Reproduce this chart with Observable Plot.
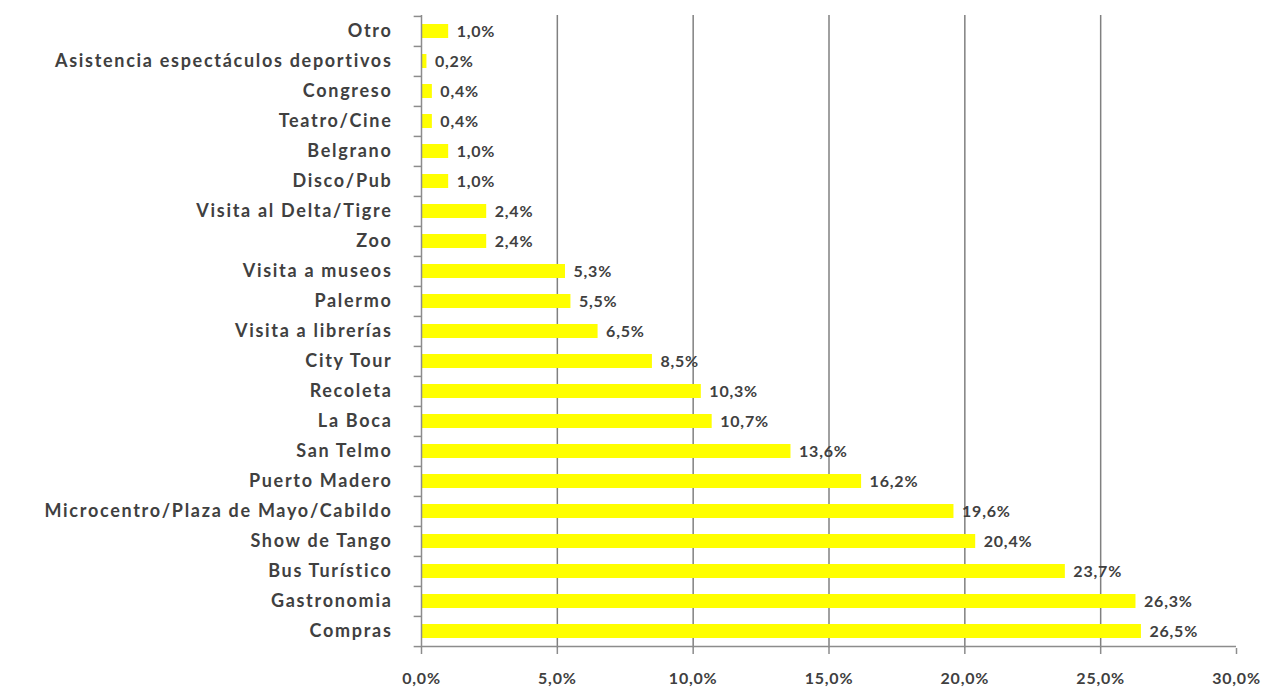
<!DOCTYPE html>
<html>
<head>
<meta charset="utf-8">
<script src="https://cdn.jsdelivr.net/npm/d3@7"></script>
<script src="https://cdn.jsdelivr.net/npm/@observablehq/plot@0.6"></script>
<style>
  html, body { margin: 0; padding: 0; background: #fff; }
  #chart svg { display: block; }
  .tour text { letter-spacing: 0.8px; }
  .tour g[aria-label="y-axis tick label"] text { letter-spacing: 1.7px; }
</style>
</head>
<body>
<div id="chart"></div>
<script>
const categories = [
  "Otro",
  "Asistencia espectáculos deportivos",
  "Congreso",
  "Teatro/Cine",
  "Belgrano",
  "Disco/Pub",
  "Visita al Delta/Tigre",
  "Zoo",
  "Visita a museos",
  "Palermo",
  "Visita a librerías",
  "City Tour",
  "Recoleta",
  "La Boca",
  "San Telmo",
  "Puerto Madero",
  "Microcentro/Plaza de Mayo/Cabildo",
  "Show de Tango",
  "Bus Turístico",
  "Gastronomia",
  "Compras"
];
const values = [1.0, 0.2, 0.4, 0.4, 1.0, 1.0, 2.4, 2.4, 5.3, 5.5, 6.5, 8.5, 10.3, 10.7, 13.6, 16.2, 19.6, 20.4, 23.7, 26.3, 26.5];
const xTicks = [0, 5, 10, 15, 20, 25, 30];
const gridTicks = [5, 10, 15, 20, 25];

const data = categories.map((c, i) => ({category: c, value: values[i]}));
const fmt = v => v.toFixed(1).replace(".", ",") + "%";

const W = 1262, H = 688;
const mTop = 15, mBottom = 40, mLeft = 421, mRight = 26;
const step = (H - mTop - mBottom) / categories.length;
const FONT = "Lato, 'Open Sans', sans-serif";
const AX = "#8c8c8c";

const chart = Plot.plot({
  width: W,
  height: H,
  marginTop: mTop,
  marginBottom: mBottom,
  marginLeft: mLeft,
  marginRight: mRight,
  className: "tour",
  style: {fontFamily: FONT, fontSize: "16px", color: "#404040", background: "#fff"},
  x: {domain: [0, 30], ticks: xTicks, tickFormat: fmt, label: null},
  y: {domain: categories, paddingInner: 0.53, paddingOuter: 0.265, label: null},
  marks: [
    Plot.ruleX(gridTicks, {stroke: "#808080", strokeWidth: 1.5}),
    Plot.barX(data, {y: "category", x: "value", fill: "#ffff00"}),
    Plot.text(data, {y: "category", x: "value", text: d => fmt(d.value), textAnchor: "start", dx: 8, fill: "#404040", fontSize: 16, fontWeight: "bold"}),
    // left axis line
    Plot.ruleX([0], {stroke: AX, strokeWidth: 1.5}),
    // category boundary ticks
    Plot.ruleY(categories, {y: d => d, dy: -step / 2, x1: -0.27, x2: 0, stroke: AX, strokeWidth: 1.5}),
    Plot.ruleY([categories[categories.length - 1]], {y: d => d, dy: step / 2, x1: -0.27, x2: 0, stroke: AX, strokeWidth: 1.5}),
    // bottom axis
    Plot.axisX({ticks: xTicks, tickFormat: fmt, tickSize: 6, tickPadding: 18, stroke: AX, strokeWidth: 1.5, fill: "#404040", fontSize: 16, fontWeight: "bold"}),
    Plot.ruleY([categories[categories.length - 1]], {y: d => d, dy: step / 2, x1: 0, x2: 30, stroke: AX, strokeWidth: 1.5}),
    Plot.axisY({tickSize: 0, tickPadding: 29, fill: "#404040", fontSize: 18, fontWeight: "bold"})
  ]
});
document.getElementById("chart").appendChild(chart);
</script>
</body>
</html>
